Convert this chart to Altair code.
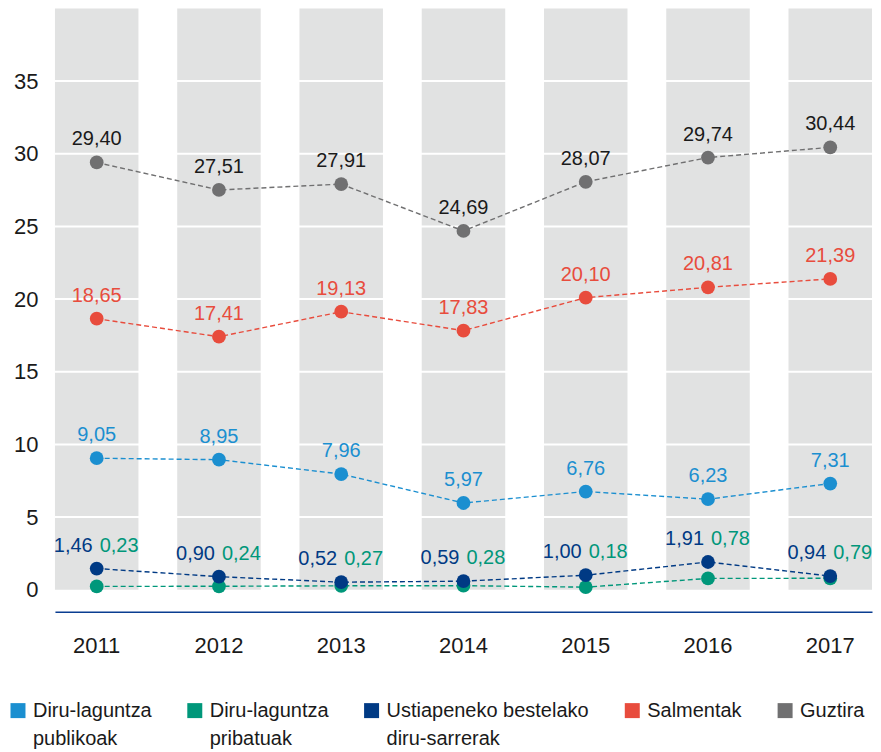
import altair as alt
import pandas as pd

years = ["2011", "2012", "2013", "2014", "2015", "2016", "2017"]
series = [
    "Diru-laguntza|publikoak",
    "Diru-laguntza|pribatuak",
    "Ustiapeneko bestelako|diru-sarrerak",
    "Salmentak|",
    "Guztira|",
]
colors = ["#1b8fd0", "#00977a", "#003a84", "#e84c3d", "#707071"]
label_colors = ["#1b8fd0", "#00977a", "#003a84", "#e84c3d", "#1a1a1a"]

publikoak = [9.05, 8.95, 7.96, 5.97, 6.76, 6.23, 7.31]
pribatuak = [0.23, 0.24, 0.27, 0.28, 0.18, 0.78, 0.79]
ustiapeneko = [1.46, 0.90, 0.52, 0.59, 1.00, 1.91, 0.94]
salmentak = [18.65, 17.41, 19.13, 17.83, 20.10, 20.81, 21.39]
guztira = [29.40, 27.51, 27.91, 24.69, 28.07, 29.74, 30.44]

column_top = [40] * 7
grid_values = [5, 10, 15, 20, 25, 30, 35]
y_ticks = [0, 5, 10, 15, 20, 25, 30, 35]

values = [publikoak, pribatuak, ustiapeneko, salmentak, guztira]

FONT = "Liberation Sans"

rows = []
for s, c, lc, vals in zip(series, colors, label_colors, values):
    for i, (y, v) in enumerate(zip(years, vals)):
        rows.append({
            "year": y, "series": s, "value": v, "hex": c, "lhex": lc,
            "order": series.index(s),
            "label": f"{v:.2f}".replace(".", ","),
            "anchor": ustiapeneko[i],
        })
df = pd.DataFrame(rows)

bars_df = pd.DataFrame({"year": years, "top": column_top})
grid_df = pd.DataFrame({"v": grid_values})

x_enc = alt.X(
    "year:N",
    scale=alt.Scale(domain=years, paddingInner=0.317, paddingOuter=0),
    axis=alt.Axis(
        title=None, labelAngle=0, ticks=False, grid=False,
        domainColor="#0a3d91", domainWidth=1.5, offset=22,
        labelPadding=24, labelFontSize=22, labelColor="#1a1a1a", labelFont=FONT,
    ),
)
y_scale = alt.Scale(domain=[0, 40], nice=False, zero=True)
y_axis = alt.Axis(
    title=None, values=y_ticks, domain=False, ticks=False, grid=False,
    labelFontSize=22, labelColor="#1a1a1a", labelFont=FONT, labelPadding=17,
    minExtent=47, maxExtent=47,
)

bars = alt.Chart(bars_df).mark_bar(color="#e1e2e2").encode(
    x=x_enc,
    y=alt.Y("top:Q", scale=y_scale, axis=y_axis),
)

grid = alt.Chart(grid_df).mark_rule(color="white", strokeWidth=2).encode(
    y=alt.Y("v:Q", scale=y_scale),
)

lines = alt.Chart(df).mark_line(strokeDash=[5, 3], strokeWidth=1.4).encode(
    x=alt.X("year:N", scale=alt.Scale(domain=years)),
    y=alt.Y("value:Q", scale=y_scale),
    detail="series:N",
    color=alt.Color("hex:N", scale=None),
    order="order:Q",
)

points = alt.Chart(df).mark_circle(size=190, opacity=1).encode(
    x=alt.X("year:N"),
    y=alt.Y("value:Q", scale=y_scale),
    color=alt.Color(
        "series:N",
        scale=alt.Scale(domain=series, range=colors),
        sort=series,
        legend=alt.Legend(
            title=None, orient="none", direction="horizontal",
            legendX=-47, legendY=693, padding=0,
            symbolType="square", symbolSize=225, symbolStrokeWidth=0,
            symbolOpacity=1, labelFontSize=20, labelFont=FONT,
            labelColor="#1a1a1a", labelOffset=5, columnPadding=33,
            labelExpr="split(datum.label, '|')", labelBaseline="middle",
            labelLimit=400,
        ),
    ),
    order="order:Q",
)

top_df = df[df["series"].isin([series[0], series[3], series[4]])]
top_labels = alt.Chart(top_df).mark_text(
    baseline="alphabetic", dy=-17, fontSize=20, font=FONT
).encode(
    x=alt.X("year:N"),
    y=alt.Y("value:Q", scale=y_scale),
    text="label:N",
    color=alt.Color("lhex:N", scale=None),
)

ust_labels = alt.Chart(df[df["series"] == series[2]]).mark_text(
    baseline="alphabetic", align="right", dx=-4, dy=-17, fontSize=20, font=FONT
).encode(
    x=alt.X("year:N"),
    y=alt.Y("anchor:Q", scale=y_scale),
    text="label:N",
    color=alt.Color("lhex:N", scale=None),
)

pri_labels = alt.Chart(df[df["series"] == series[1]]).mark_text(
    baseline="alphabetic", align="left", dx=3, dy=-17, fontSize=20, font=FONT
).encode(
    x=alt.X("year:N"),
    y=alt.Y("anchor:Q", scale=y_scale),
    text="label:N",
    color=alt.Color("lhex:N", scale=None),
)

chart = alt.layer(
    bars, grid, lines, points, top_labels, ust_labels, pri_labels
).properties(
    width=818, height=582,
    padding={"left": 0, "top": 0, "right": 0, "bottom": 0},
).configure(
    view=alt.ViewConfig(stroke=None),
    style={"guide-label": {"lineHeight": 28}},
)

chart.save("out.html", embed_options={"renderer": "svg", "actions": False})
